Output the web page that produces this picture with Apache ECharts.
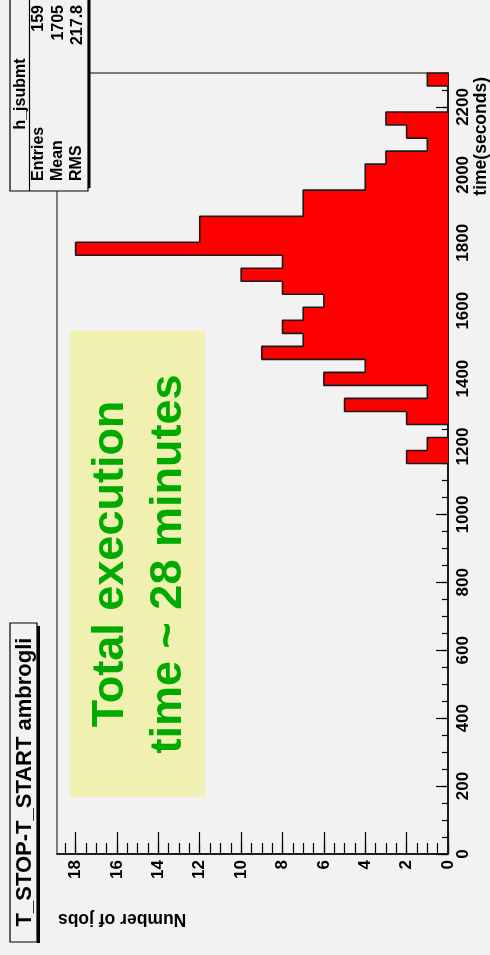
<!DOCTYPE html>
<html>
<head>
<meta charset="utf-8">
<script src="https://cdn.jsdelivr.net/npm/echarts@6/dist/echarts.min.js"></script>
<style>
  html, body { margin: 0; padding: 0; background: #f2f2f2; }
  #chart { width: 490px; height: 955px; }
</style>
</head>
<body>
<div id="chart"></div>
<script>
// Histogram of job durations (T_STOP - T_START), drawn lying on its side.
const histName = 'h_jsubmt';
const titleText = 'T_STOP-T_START ambrogli';
const timeTitle = 'time(seconds)';
const countTitle = 'Number of jobs';

const timeMin = 0;
const timeMax = 2300;
const nBins = 60;
const countMax = 18.9;

// jobs per bin, bins of equal width from timeMin to timeMax
const counts = [
  0, 0, 0, 0, 0, 0, 0, 0, 0, 0,
  0, 0, 0, 0, 0, 0, 0, 0, 0, 0,
  0, 0, 0, 0, 0, 0, 0, 0, 0, 0,
  2, 1, 0, 2, 5, 1, 6, 4, 9, 7,
  8, 7, 6, 8, 10, 8, 18, 12, 12, 7,
  7, 4, 4, 3, 1, 2, 3, 0, 0, 1
];

const timeTickLabels = [0, 200, 400, 600, 800, 1000, 1200, 1400, 1600, 1800, 2000, 2200];
const countTickLabels = [0, 2, 4, 6, 8, 10, 12, 14, 16, 18];

const statsNames = ['Entries', 'Mean', 'RMS'];
const statsValues = ['159', '1705', '217.8'];

const noteLines = ['Total execution', 'time ~ 28 minutes'];

// ---- derived tables -------------------------------------------------------
const binWidth = (timeMax - timeMin) / nBins;
const binRows = counts.map((n, i) => [timeMin + i * binWidth, timeMin + (i + 1) * binWidth, n]);

// outer step contour of the histogram
const contour = [[0, timeMin]];
binRows.forEach(r => { contour.push([r[2], r[0]], [r[2], r[1]]); });
contour.push([0, timeMax]);

const timeMinor = [];
for (let t = timeMin; t <= timeMax; t += 50) timeMinor.push(t);
const countMinor = [];
for (let c = 0; c <= countMax; c += 0.5) countMinor.push(c);

const FONT = '"Liberation Sans", Arial, Helvetica, sans-serif';
const BG = '#f2f2f2';
const UP = Math.PI / 2;

function vText(text, x, y, size, align, fill) {
  return {
    type: 'text', x: x, y: y, rotation: UP, z: 100,
    style: {
      text: text, font: 'bold ' + size + 'px ' + FONT, fill: fill || '#000',
      align: align, verticalAlign: 'middle',
      textAlign: align, textVerticalAlign: 'middle'
    }
  };
}

const chart = echarts.init(document.getElementById('chart'), null, { renderer: 'canvas' });

const labelStyle = {
  fontFamily: FONT, fontWeight: 'bold', fontSize: 17, color: '#000',
  formatter: v => String(v)
};

chart.setOption({
  animation: false,
  backgroundColor: BG,
  grid: {
    left: 57, right: 42, top: 73, bottom: 101,
    show: true, borderColor: '#555', borderWidth: 1.5, backgroundColor: 'transparent'
  },
  xAxis: [
    {
      type: 'value', min: 0, max: countMax, inverse: true, position: 'bottom', interval: 2,
      axisLine: { show: true, lineStyle: { color: '#000', width: 1.5 } },
      axisTick: { show: true, inside: true, length: 22, customValues: countTickLabels,
                  lineStyle: { color: '#000', width: 1.2 } },
      axisLabel: Object.assign({ customValues: countTickLabels, rotate: 90, margin: 6 }, labelStyle),
      splitLine: { show: false }
    },
    {
      type: 'value', min: 0, max: countMax, inverse: true, position: 'bottom',
      axisLine: { show: false },
      axisTick: { show: true, inside: true, length: 11, customValues: countMinor,
                  lineStyle: { color: '#000', width: 1.2 } },
      axisLabel: { show: false },
      splitLine: { show: false }
    }
  ],
  yAxis: [
    {
      type: 'value', min: timeMin, max: timeMax, position: 'right', interval: 200,
      axisLine: { show: true, lineStyle: { color: '#000', width: 1.5 } },
      axisTick: { show: true, inside: true, length: 12, customValues: timeTickLabels,
                  lineStyle: { color: '#000', width: 1.2 } },
      axisLabel: Object.assign({ customValues: timeTickLabels, rotate: 90, margin: 7 }, labelStyle),
      splitLine: { show: false }
    },
    {
      type: 'value', min: timeMin, max: timeMax, position: 'right',
      axisLine: { show: false },
      axisTick: { show: true, inside: true, length: 6, customValues: timeMinor,
                  lineStyle: { color: '#000', width: 1.2 } },
      axisLabel: { show: false },
      splitLine: { show: false }
    }
  ],
  series: [
    {
      type: 'custom', name: histName, xAxisIndex: 0, yAxisIndex: 0,
      dimensions: ['lo', 'hi', 'n'],
      encode: { x: 2, y: [0, 1] },
      data: binRows,
      z: 2,
      renderItem: function (params, api) {
        const lo = api.value(0), hi = api.value(1), n = api.value(2);
        if (!n) return null;
        const a = api.coord([0, lo]);
        const b = api.coord([n, hi]);
        const x0 = Math.min(a[0], b[0]), x1 = Math.max(a[0], b[0]);
        const y0 = Math.round(Math.min(a[1], b[1])), y1 = Math.round(Math.max(a[1], b[1]));
        return { type: 'rect', shape: { x: x0, y: y0, width: x1 - x0, height: y1 - y0 },
                 style: { fill: '#ff0000' } };
      }
    },
    {
      type: 'line', xAxisIndex: 0, yAxisIndex: 0, data: contour, z: 3,
      showSymbol: false, symbol: 'none',
      lineStyle: { color: '#1a1a1a', width: 1.6 },
      silent: true
    }
  ],
  graphic: [
    // note box
    { type: 'rect', shape: { x: 70, y: 331, width: 135, height: 466 },
      style: { fill: '#f0f0b0' }, z: 50 },
    vText(noteLines[0], 111, 564, 45, 'center', '#00aa00'),
    vText(noteLines[1], 169, 564, 45, 'center', '#00aa00'),

    // title box
    { type: 'rect', shape: { x: 37, y: 626, width: 3, height: 317 }, style: { fill: '#000' }, z: 60 },
    { type: 'rect', shape: { x: 10, y: 623, width: 27, height: 319 },
      style: { fill: BG, stroke: '#000', lineWidth: 1.2 }, z: 61 },
    vText(titleText, 25, 782, 22, 'center'),

    // statistics box
    { type: 'rect', shape: { x: 87.5, y: -3, width: 3, height: 191 }, style: { fill: '#000' }, z: 60 },
    { type: 'rect', shape: { x: 10, y: -3, width: 78, height: 194 },
      style: { fill: BG, stroke: '#000', lineWidth: 1.2 }, z: 61 },
    { type: 'line', shape: { x1: 29.5, y1: -3, x2: 29.5, y2: 191 },
      style: { stroke: '#000', lineWidth: 1.2 }, z: 62 },
    vText(histName, 21, 94, 16, 'center'),
    vText(statsNames[0], 38.5, 181, 16, 'left'),
    vText(statsNames[1], 57.5, 181, 16, 'left'),
    vText(statsNames[2], 77, 181, 16, 'left'),
    vText(statsValues[0], 38.5, 5, 16, 'right'),
    vText(statsValues[1], 58.5, 5, 16, 'right'),
    vText(statsValues[2], 78, 5, 16, 'right'),

    // axis titles
    vText(timeTitle, 481, 77, 17.5, 'right'),
    {
      type: 'text', x: 58, y: 919, rotation: Math.PI, z: 100,
      style: { text: countTitle, font: 'bold 17.5px ' + FONT, fill: '#000',
               align: 'right', verticalAlign: 'middle', textAlign: 'right', textVerticalAlign: 'middle' }
    }
  ]
});
</script>
</body>
</html>
